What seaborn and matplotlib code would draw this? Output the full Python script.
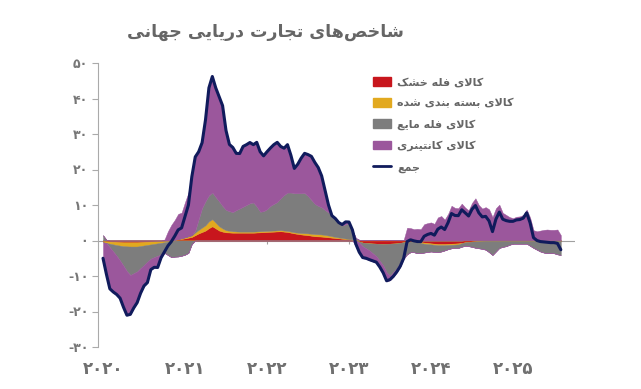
import numpy as np
import matplotlib
matplotlib.use("Agg")
import matplotlib.pyplot as plt
from matplotlib.patches import Patch
from matplotlib.lines import Line2D
import seaborn as sns

# ── data (twice a month, Jan 2020 .. mid 2025) ──
START_YEAR = 2020
STEPS_PER_YEAR = 24
dry_bulk = [-0.2, -0.25, -0.3, -0.35, -0.4, -0.45, -0.5, -0.5, -0.5, -0.5, -0.5, -0.45,
            -0.4, -0.35, -0.3, -0.25, -0.2, -0.15, -0.1, 0.0, 0.1, 0.2, 0.3, 0.45,
            0.6, 0.8, 1.0, 1.5, 2.0, 2.4, 2.8, 3.5, 4.0, 3.4, 2.8, 2.5,
            2.3, 2.25, 2.2, 2.2, 2.2, 2.2, 2.2, 2.2, 2.2, 2.25, 2.3, 2.35,
            2.4, 2.45, 2.5, 2.55, 2.6, 2.5, 2.4, 2.2, 2.0, 1.85, 1.7, 1.6,
            1.5, 1.35, 1.2, 1.15, 1.1, 1.0, 0.9, 0.8, 0.7, 0.6, 0.5, 0.4,
            0.3, 0.15, 0.0, -0.3, -0.6, -0.7, -0.8, -0.85, -0.9, -0.95, -1.0, -0.95,
            -0.9, -0.85, -0.8, -0.65, -0.5, -0.4, -0.3, -0.3, -0.3, -0.45, -0.6, -0.7,
            -0.8, -0.9, -1.0, -1.0, -1.0, -0.95, -0.9, -0.85, -0.8, -0.65, -0.5, -0.4,
            -0.3, -0.25, -0.2, -0.15, -0.1, -0.1, -0.1, -0.1, -0.1, -0.1, -0.1, -0.1,
            -0.1, -0.1, -0.1, -0.1, -0.1, -0.1, -0.1, -0.1, -0.1, -0.1, -0.1, -0.1,
            -0.1, -0.1, -0.1]
packaged = [-0.3, -0.45, -0.6, -0.75, -0.9, -1.0, -1.1, -1.15, -1.2, -1.2, -1.2, -1.1,
            -1.0, -0.9, -0.8, -0.7, -0.6, -0.5, -0.4, -0.3, -0.2, -0.05, 0.1, 0.2,
            0.3, 0.4, 0.5, 0.75, 1.0, 1.25, 1.5, 1.9, 2.0, 1.6, 1.2, 0.9,
            0.6, 0.5, 0.4, 0.35, 0.3, 0.3, 0.3, 0.3, 0.3, 0.3, 0.3, 0.3,
            0.3, 0.3, 0.3, 0.3, 0.3, 0.3, 0.3, 0.3, 0.3, 0.35, 0.4, 0.45,
            0.5, 0.55, 0.6, 0.6, 0.6, 0.55, 0.5, 0.4, 0.3, 0.25, 0.2, 0.15,
            0.1, 0.15, 0.2, 0.2, 0.2, 0.2, 0.2, 0.2, 0.2, 0.2, 0.2, 0.2,
            0.2, 0.2, 0.2, 0.2, 0.2, 0.2, 0.2, 0.0, -0.3, -0.3, -0.3, -0.3,
            -0.3, -0.3, -0.3, -0.3, -0.3, -0.3, -0.3, -0.3, -0.3, -0.1, 0.1, 0.1,
            0.1, 0.1, 0.1, 0.1, 0.1, 0.1, 0.1, 0.1, 0.1, 0.1, 0.1, 0.1,
            0.1, 0.1, 0.1, 0.1, 0.1, 0.1, 0.1, 0.1, 0.1, 0.1, 0.1, 0.1,
            0.1, 0.1, 0.1]
liquid_bulk = [1.5, 0.2, -1.0, -2.0, -3.0, -4.2, -5.5, -7.0, -8.0, -7.5, -7.0, -6.2,
               -5.5, -4.7, -4.0, -3.7, -3.5, -3.2, -3.0, -3.8, -4.5, -4.5, -4.5, -4.3,
               -4.0, -3.5, -1.0, 0.5, 3.0, 5.5, 6.8, 7.3, 7.5, 7.2, 7.0, 6.3,
               5.7, 5.5, 5.4, 6.0, 6.5, 7.0, 7.5, 8.0, 8.2, 7.0, 5.5, 5.6,
               6.1, 7.0, 7.5, 8.0, 9.0, 10.0, 10.8, 11.0, 11.0, 11.1, 11.2, 11.3,
               10.5, 9.5, 8.5, 8.0, 7.6, 7.0, 6.5, 5.5, 5.0, 4.2, 3.5, 4.0,
               4.5, 2.5, 0.5, -0.3, -1.0, -1.5, -2.0, -2.8, -3.5, -4.8, -6.0, -8.0,
               -9.0, -8.0, -7.0, -5.5, -4.5, -3.5, -3.0, -3.0, -3.0, -2.8, -2.5, -2.2,
               -2.0, -2.0, -2.0, -1.8, -1.5, -1.2, -1.0, -1.0, -1.0, -1.0, -1.0, -1.2,
               -1.5, -1.8, -2.0, -2.2, -2.5, -3.2, -4.0, -3.0, -2.0, -1.7, -1.5, -1.1,
               -0.8, -0.8, -0.8, -0.8, -0.8, -1.4, -2.0, -2.5, -3.0, -3.3, -3.5, -3.5,
               -3.5, -3.8, -4.0]
container = [-6.0, -9.0, -11.7, -11.4, -10.9, -10.6, -11.7, -12.4, -11.1, -9.8, -8.8, -7.1,
             -5.9, -5.9, -3.1, -2.9, -3.3, -1.0, 0.3, 2.6, 4.3, 5.6, 7.1, 7.2,
             9.9, 12.3, 17.5, 20.8, 19.0, 18.4, 22.9, 30.3, 32.7, 30.8, 29.5, 28.3,
             22.4, 18.8, 18.2, 16.0, 15.5, 17.0, 17.0, 17.1, 16.3, 18.1, 16.9, 15.6,
             16.2, 16.3, 16.7, 16.8, 14.6, 13.2, 13.5, 10.5, 7.0, 8.2, 9.9, 11.2,
             11.7, 12.3, 11.7, 10.8, 8.9, 5.5, 2.1, 0.3, 0.2, 0.0, 0.3, 0.7,
             0.3, 0.2, -1.7, -2.9, -3.4, -3.0, -2.8, -2.3, -1.9, -1.9, -2.3, -2.6,
             -1.3, -1.4, -1.2, -1.3, -0.2, 3.4, 3.3, 3.2, 3.3, 3.2, 4.6, 4.9,
             5.1, 4.7, 6.5, 6.9, 5.9, 7.5, 9.8, 9.2, 9.1, 10.4, 9.2, 8.4,
             10.5, 11.8, 9.9, 8.9, 9.3, 8.7, 6.5, 9.0, 10.0, 7.7, 7.1, 6.5,
             6.2, 6.6, 6.7, 7.1, 8.6, 6.4, 2.8, 2.5, 2.7, 2.9, 3.0, 2.9,
             2.9, 3.0, 1.4]

years = [2020, 2021, 2022, 2023, 2024, 2025]
y_ticks = [50, 40, 30, 20, 10, 0, -10, -20, -30]

TITLE = "شاخص\u200cهای تجارت دریایی جهانی"
LABELS = ["کالای فله خشک", "کالای بسته بندی شده", "کالای فله مایع",
          "کالای کانتینری", "جمع"]

C_RED, C_YEL, C_GRAY, C_PURP, C_NAVY = "#c8161d", "#e2a91f", "#7d7d7d", "#9b579c", "#101b5c"

# ── Persian shaping: matplotlib does no joining / RTL ──
FORMS = {
    "ا": ("\uFE8D", "\uFE8E", None, None),
    "ب": ("\uFE8F", "\uFE90", "\uFE91", "\uFE92"),
    "ت": ("\uFE95", "\uFE96", "\uFE97", "\uFE98"),
    "ج": ("\uFE9D", "\uFE9E", "\uFE9F", "\uFEA0"),
    "خ": ("\uFEA5", "\uFEA6", "\uFEA7", "\uFEA8"),
    "د": ("\uFEA9", "\uFEAA", None, None),
    "ر": ("\uFEAD", "\uFEAE", None, None),
    "س": ("\uFEB1", "\uFEB2", "\uFEB3", "\uFEB4"),
    "ش": ("\uFEB5", "\uFEB6", "\uFEB7", "\uFEB8"),
    "ص": ("\uFEB9", "\uFEBA", "\uFEBB", "\uFEBC"),
    "ع": ("\uFEC9", "\uFECA", "\uFECB", "\uFECC"),
    "ف": ("\uFED1", "\uFED2", "\uFED3", "\uFED4"),
    "ل": ("\uFEDD", "\uFEDE", "\uFEDF", "\uFEE0"),
    "م": ("\uFEE1", "\uFEE2", "\uFEE3", "\uFEE4"),
    "ن": ("\uFEE5", "\uFEE6", "\uFEE7", "\uFEE8"),
    "ه": ("\uFEE9", "\uFEEA", "\uFEEB", "\uFEEC"),
    "ی": ("\uFBFC", "\uFBFD", "\uFBFE", "\uFBFF"),
    "ک": ("\uFB8E", "\uFB8F", "\uFB90", "\uFB91"),
}
RIGHT_ONLY = set("اآدذرزژو")


def fa(text):
    units, i = [], 0
    while i < len(text):
        if text[i] == "ل" and text[i + 1:i + 2] == "ا":
            units.append("LA")
            i += 2
        else:
            units.append(text[i])
            i += 1

    def joins_next(u):
        return u in FORMS and u not in RIGHT_ONLY

    def joinable(u):
        return u == "LA" or u in FORMS

    out = []
    for k, u in enumerate(units):
        prev = units[k - 1] if k > 0 else None
        nxt = units[k + 1] if k + 1 < len(units) else None
        p = prev is not None and joins_next(prev) and joinable(u)
        if u == "LA":
            out.append("\uFEFC" if p else "\uFEFB")
            continue
        if u not in FORMS:
            if u != "\u200c":
                out.append(u)
            continue
        n = joins_next(u) and nxt is not None and joinable(nxt)
        iso, fin, ini, med = FORMS[u]
        out.append(med if (p and n) else fin if p else ini if n else iso)
    return "".join(reversed(out))


def fa_num(v):
    return str(v).translate(str.maketrans("0123456789", "۰۱۲۳۴۵۶۷۸۹"))


sns.set_style("white")
plt.rcParams["font.family"] = ["DejaVu Sans"]

W, H = 641, 389
fig = plt.figure(figsize=(W / 100, H / 100), dpi=100)
ax = fig.add_axes([98 / W, 1 - 347 / H, (575 - 98) / W, (347 - 63) / H])

n = len(container)
t = START_YEAR + np.arange(n) / STEPS_PER_YEAR

ax.axhline(0, color="#a0a0a0", lw=0.8, zorder=1)

pos_base = np.zeros(n)
neg_base = np.zeros(n)
for vals, col in [(dry_bulk, C_RED), (packaged, C_YEL), (liquid_bulk, C_GRAY), (container, C_PURP)]:
    v = np.asarray(vals)
    p = np.clip(v, 0, None)
    q = np.clip(v, None, 0)
    ax.fill_between(t, pos_base, pos_base + p, color=col, lw=0.3, zorder=2)
    ax.fill_between(t, neg_base, neg_base + q, color=col, lw=0.3, zorder=2)
    pos_base += p
    neg_base += q

total = np.sum([dry_bulk, packaged, liquid_bulk, container], axis=0)
sns.lineplot(x=t, y=total, color=C_NAVY, lw=2.2, ax=ax, zorder=3)

# small year ticks on the zero line
ax.vlines(years[1:], -0.9, 0, color="#a0a0a0", lw=0.8, zorder=1)

ax.set_xlim(START_YEAR - 5 / 82, START_YEAR + 472 / 82)
ax.set_ylim(-30, 50)
ax.set_yticks(y_ticks)
ax.set_yticklabels([fa_num(v) for v in y_ticks], fontsize=9, fontweight="bold", color="#777777")
ax.set_xticks(years)
ax.set_xticklabels([fa_num(y) for y in years], fontsize=12, fontweight="bold", color="#707070")
ax.tick_params(axis="y", direction="out", length=4, width=0.8, color="#aaaaaa", pad=3, left=True)
ax.tick_params(axis="x", length=0, pad=9)
for s in ["top", "right", "bottom"]:
    ax.spines[s].set_visible(False)
ax.spines["left"].set_color("#aaaaaa")
ax.spines["left"].set_linewidth(0.8)

handles = [Patch(color=C_RED), Patch(color=C_YEL), Patch(color=C_GRAY), Patch(color=C_PURP),
           Line2D([0], [0], color=C_NAVY, lw=2)]
leg = ax.legend(handles, [fa(l) for l in LABELS], loc="upper left",
                bbox_to_anchor=(373 / W, 1 - 77 / H), bbox_transform=fig.transFigure,
                frameon=False, fontsize=8, handlelength=1.6, handleheight=0.85,
                handletextpad=0.6, labelspacing=0.97, borderpad=0, borderaxespad=0)
for txt in leg.get_texts():
    txt.set_color("#666666")
    txt.set_fontweight("bold")

fig.text(265 / W, 1 - 32 / H, fa(TITLE), ha="center", va="center",
         fontsize=12.5, fontweight="bold", color="#666666")

fig.savefig("out.png", dpi=100, facecolor="white")
